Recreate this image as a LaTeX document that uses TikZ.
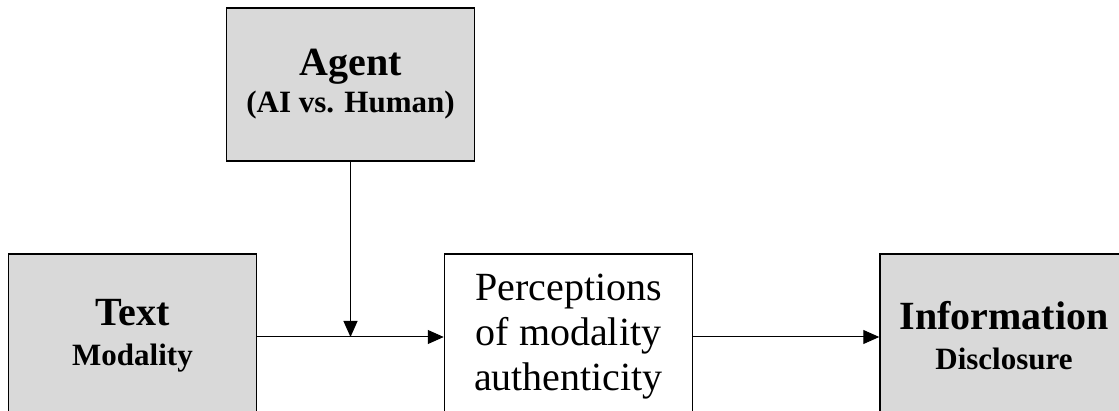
\documentclass[tikz,border=0pt]{standalone}
\usepackage{fontspec}
\setmainfont{Liberation Serif}
\usetikzlibrary{arrows.meta}

\newcommand{\titlefont}{\fontsize{40}{44}\selectfont\bfseries}
\newcommand{\bodyfont}{\fontsize{40}{45}\selectfont}

\tikzset{
  var/.style={draw, line width=1.5pt, fill=black!15, align=center,
              inner sep=0pt, minimum width=248pt, minimum height=164pt,
              font=\fontsize{31}{#1}\selectfont\bfseries},
  var/.default=40,
  mediator/.style={var, fill=white, minimum height=166pt, font=\bodyfont},
  link/.style={draw, line width=1pt, -{Triangle[length=16pt,width=14pt]}}
}

\begin{document}
\begin{tikzpicture}[x=1pt, y=-1pt]
\clip (0,0) rectangle (1119,411);

\node[var=37, minimum height=153pt] (agent) at (350.5,84.5)
  {\titlefont Agent\\(AI vs. Human)};
\node[var] (text) at (132.5,336)
  {\titlefont Text\\Modality};
\node[mediator] (percep) at (568.5,337)
  {Perceptions\\of modality\\authenticity};
\node[var] (info) at (1004,336)
  {\titlefont Information\\Disclosure};

\coordinate (join) at (agent.south |- percep.west);

\draw[link] (text.east |- join) -- (percep.west);
\draw[link] (percep.east) -- (info.west |- percep.east);
\draw[link] (agent.south) -- (join);
\end{tikzpicture}
\end{document}
